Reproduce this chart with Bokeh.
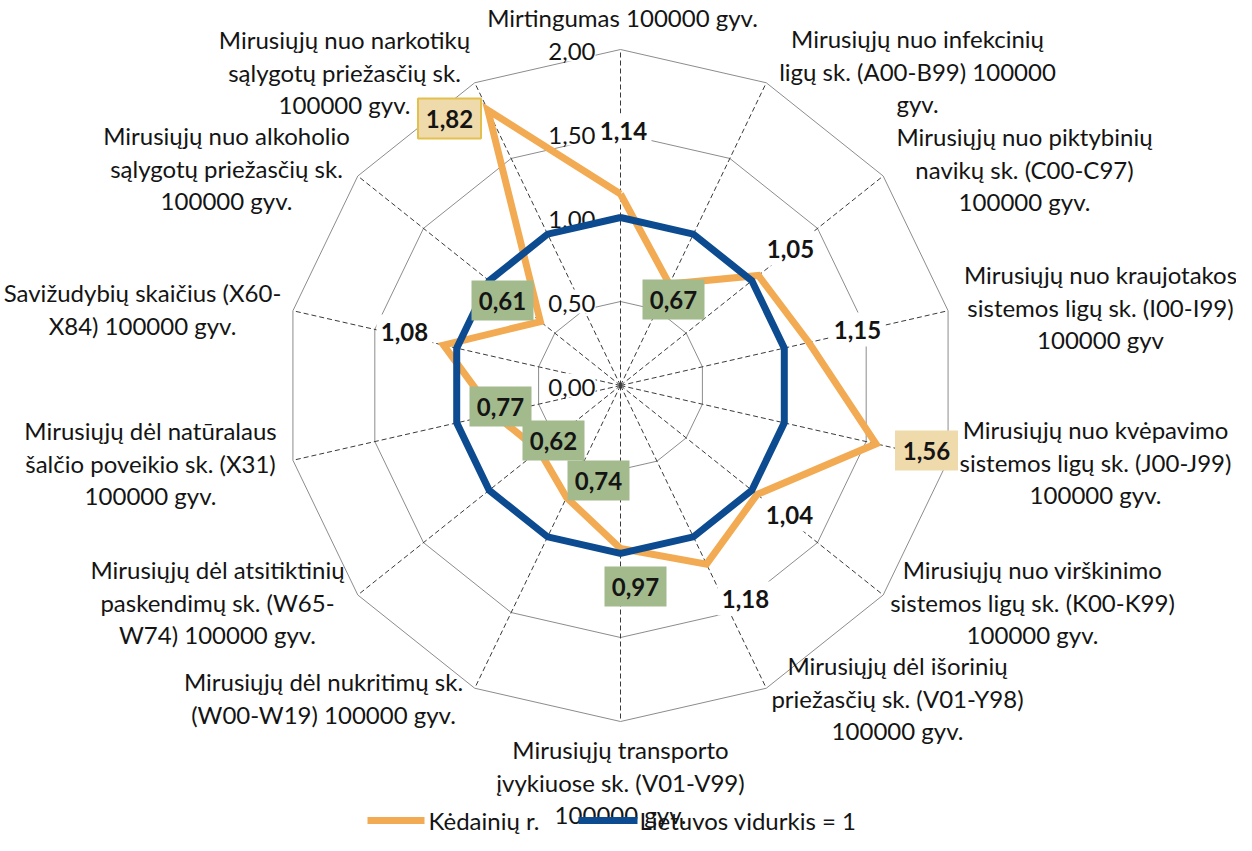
import math
from bokeh.plotting import figure
from bokeh.models import Range1d
from bokeh.core.properties import value
from bokeh.embed import file_html
from bokeh.resources import INLINE

# ---------------- data ----------------
categories = [
    "Mirtingumas 100000 gyv.",
    "Mirusiųjų nuo infekcinių\nligų sk. (A00-B99) 100000\ngyv.",
    "Mirusiųjų nuo piktybinių\nnavikų sk. (C00-C97)\n100000 gyv.",
    "Mirusiųjų nuo kraujotakos\nsistemos ligų sk. (I00-I99)\n100000 gyv",
    "Mirusiųjų nuo kvėpavimo\nsistemos ligų sk. (J00-J99)\n100000 gyv.",
    "Mirusiųjų nuo virškinimo\nsistemos ligų sk. (K00-K99)\n100000 gyv.",
    "Mirusiųjų dėl išorinių\npriežasčių sk. (V01-Y98)\n100000 gyv.",
    "Mirusiųjų transporto\nįvykiuose sk. (V01-V99)\n100000 gyv.",
    "Mirusiųjų dėl nukritimų sk.\n(W00-W19) 100000 gyv.",
    "Mirusiųjų dėl atsitiktinių\npaskendimų sk. (W65-\nW74) 100000 gyv.",
    "Mirusiųjų dėl natūralaus\nšalčio poveikio sk. (X31)\n100000 gyv.",
    "Savižudybių skaičius (X60-\nX84) 100000 gyv.",
    "Mirusiųjų nuo alkoholio\nsąlygotų priežasčių sk.\n100000 gyv.",
    "Mirusiųjų nuo narkotikų\nsąlygotų priežasčių sk.\n100000 gyv.",
]
kedainiai = [1.14, 0.67, 1.05, 1.15, 1.56, 1.04, 1.18, 0.97, 0.74, 0.62, 0.77, 1.08, 0.61, 1.82]
lietuva = [1.00, 1.00, 1.00, 1.00, 1.00, 1.00, 1.00, 1.00, 1.00, 1.00, 1.00, 1.00, 1.00, 1.00]
ticks = [0.0, 0.5, 1.0, 1.5, 2.0]
tick_labels = ["0,00", "0,50", "1,00", "1,50", "2,00"]
series_names = ["Kėdainių r.", "Lietuvos vidurkis = 1"]

# ---------------- layout (page pixels) ----------------
W, H = 1236, 835
S = 168.0             # pixels per unit value
CXP, CYP = 628, 393   # centre of radar on the page

def P(px, py):
    return (px - CXP) / S, (CYP - py) / S

cat_pos = [(630, 25), (925, 46), (1032, 144), (1108, 282), (1103, 437), (1040, 577),
           (905, 673), (628, 757), (331, 689), (225, 577), (158, 438), (150, 300),
           (234, 143), (352, 47)]
line_gap = 32.5
lab_pos = [(631, 138), (681, 307), (798, 256), (865, 337), (934, 458), (797, 522),
           (753, 606), (643, 594), (606, 488), (561, 448), (508, 414), (412, 339),
           (510, 308), (457, 126)]

ORANGE = "#f2ab52"
BLUE = "#0d4b91"
GREEN = "#a3ba8d"
TAN = "#efdaab"
FONT = value("Lato")
TXT = "#141414"
FS = "24px"

p = figure(width=W, height=H, output_backend="svg", toolbar_location=None,
           x_axis_type=None, y_axis_type=None, min_border=0,
           x_range=Range1d(-(CXP - 8) / S, (W - (CXP - 8)) / S),
           y_range=Range1d(-(H - (CYP - 8)) / S, (CYP - 8) / S))
p.outline_line_color = None
p.grid.visible = False
p.background_fill_color = "white"
p.border_fill_color = "white"

N = len(categories)
th = [2 * math.pi * i / N for i in range(N)]

# rings
for t in ticks[1:]:
    xs = [t * math.sin(a) for a in th] + [0.0]
    ys = [t * math.cos(a) for a in th] + [t]
    p.line(xs, ys, line_color="#8c8c8c", line_width=1)
# spokes
rmax = ticks[-1]
p.segment(x0=[0] * N, y0=[0] * N,
          x1=[rmax * math.sin(a) for a in th], y1=[rmax * math.cos(a) for a in th],
          line_color="#3a3a3a", line_width=1, line_dash="5 3")

# tick labels with white backgrounds
p.rect(x=[P(579, 0)[0]] * len(ticks), y=ticks, width=48, height=24, width_units="screen",
       height_units="screen", fill_color="white", line_color=None)
p.text(x=[0] * len(ticks), y=ticks, text=tick_labels, x_offset=-25, y_offset=2,
       text_align="right", text_baseline="middle", text_font=FONT,
       text_font_size=FS, text_color=TXT)

# plain bold labels have white background boxes under the lines
plain = [i for i, v in enumerate(kedainiai) if 1.0 <= v <= 1.5]
p.rect(x=[P(*lab_pos[i])[0] for i in plain], y=[P(*lab_pos[i])[1] for i in plain],
       width=56, height=34, width_units="screen", height_units="screen",
       fill_color="white", line_color=None)

# series
def closed(vals):
    xs = [v * math.sin(a) for v, a in zip(vals, th)]
    ys = [v * math.cos(a) for v, a in zip(vals, th)]
    return xs + xs[:1], ys + ys[:1]

kx, ky = closed(kedainiai)
lx, ly = closed(lietuva)
p.line(kx, ky, line_color=ORANGE, line_width=7, line_join="miter")
p.line(lx, ly, line_color=BLUE, line_width=7, line_join="miter")

# data label boxes
green = [i for i, v in enumerate(kedainiai) if v < 1.0]
tan = [i for i, v in enumerate(kedainiai) if v > 1.5]
p.rect(x=[P(*lab_pos[i])[0] for i in green], y=[P(*lab_pos[i])[1] for i in green],
       width=62, height=40, width_units="screen", height_units="screen",
       fill_color=GREEN, line_color=None)
for i in tan:
    border = "#e3c04e" if kedainiai[i] == max(kedainiai) else None
    p.rect(x=[P(*lab_pos[i])[0]], y=[P(*lab_pos[i])[1]],
           width=63, height=40, width_units="screen", height_units="screen",
           fill_color=TAN, line_color=border, line_width=2)

p.text(x=[P(*q)[0] for q in lab_pos], y=[P(*q)[1] for q in lab_pos],
       text=[f"{v:.2f}".replace(".", ",") for v in kedainiai],
       text_align="center", text_baseline="middle", text_font=FONT,
       text_font_style="bold", text_font_size=FS, text_color=TXT)

# category labels
tx, ty, tt = [], [], []
for name, (cx, cy) in zip(categories, cat_pos):
    for k, ln in enumerate(name.split("\n")):
        x, y = P(cx, cy + k * line_gap)
        tx.append(x); ty.append(y); tt.append(ln)
p.text(x=tx, y=ty, text=tt, text_align="center", text_baseline="middle",
       text_font=FONT, text_font_size=FS, text_color=TXT)

# legend
ly_leg = 828
for (x0, x1, xt), col, name in zip([(375, 432, 436), (586, 645, 647)], [ORANGE, BLUE], series_names):
    a = P(x0, ly_leg); b = P(x1, ly_leg); c = P(xt, ly_leg)
    p.line([a[0], b[0]], [a[1], b[1]], line_color=col, line_width=7)
    p.text(x=[c[0]], y=[c[1]], text=[name], text_align="left", text_baseline="middle",
           text_font=FONT, text_font_size=FS, text_color=TXT)

open("out.html", "w").write(file_html(p, INLINE))
